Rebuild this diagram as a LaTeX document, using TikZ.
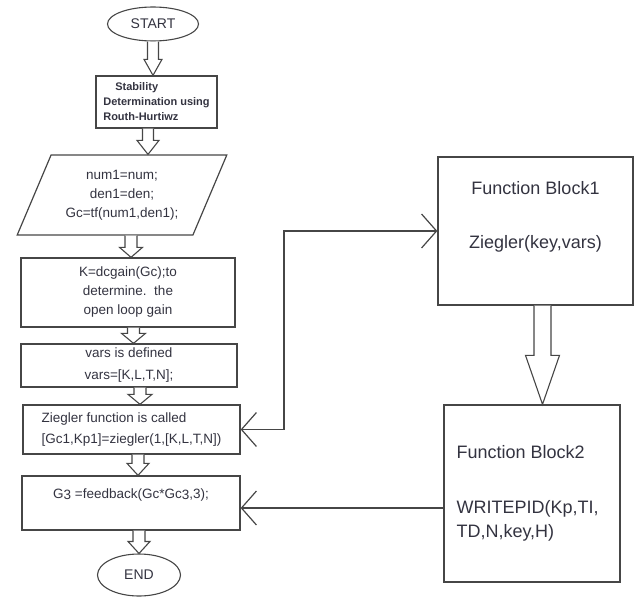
\documentclass[tikz,border=0pt]{standalone}
\usepackage{fontspec}
\setmainfont{Liberation Sans}
\usepackage{color}
\usetikzlibrary{shapes.geometric}
\usetikzlibrary{arrows.meta}
\usetikzlibrary{calc}

\definecolor{linegrey}{HTML}{464646}
\definecolor{txtgrey}{HTML}{333340}

% hollow block arrow: start point, tip point, half shaft, half head, head length
\newcommand{\hollowarrow}[5]{%
  \draw[hollow] let \p1=(#1), \p2=(#2) in
    (\x1-#3,\y1) -- (\x1-#3,\y2+#5) -- (\x1-#4,\y2+#5) -- (\x1,\y2)
    -- (\x1+#4,\y2+#5) -- (\x1+#3,\y2+#5) -- (\x1+#3,\y1);}

\begin{document}
\begin{tikzpicture}[x=1pt,y=-1pt,
    box/.style={draw=linegrey, line width=1.3pt, rectangle, inner sep=0pt, text=txtgrey},
    term/.style={draw=linegrey, line width=1.1pt, ellipse, inner sep=0pt, text=txtgrey,
        font=\fontsize{14}{16}\selectfont},
    stepfont/.style={font=\fontsize{13.5}{19}\selectfont},
    fntext/.style={inner sep=0pt, text=txtgrey, font=\fontsize{18}{22}\selectfont},
    hollow/.style={draw=linegrey, line width=1.1pt, fill=white, line join=miter},
    flow/.style={draw=linegrey, line width=1.2pt},
    barb/.tip={Straight Barb[length=15pt,width=34pt]}]
        \useasboundingbox (0,0) rectangle (639,597);

        % main flow
        \node[term, minimum width=91pt, minimum height=34pt] (start) at (153,24) {START};
        \node[box, minimum width=121pt, minimum height=52pt, align=left,
            font=\fontsize{11}{15}\selectfont\bfseries] (stab) at (156.5,102)
            {\hspace{12pt}Stability\\Determination using\\Routh-Hurtiwz};
        \node[draw=linegrey, line width=1.2pt, trapezium, trapezium left angle=61.7,
            trapezium right angle=118.3, trapezium stretches=true, inner sep=0pt,
            minimum width=210pt, minimum height=80pt, text=txtgrey, stepfont, align=center]
            (init) at (122,195) {num1=num;\\den1=den;\\Gc=tf(num1,den1);};
        \node[box, stepfont, minimum width=214pt, minimum height=69pt, align=center]
            (gain) at (128,292.5) {K=dcgain(Gc);to\\determine.\ \ the\\open loop gain};
        \node[box, stepfont, minimum width=216pt, minimum height=43pt, align=center]
            (vars) at (129,365.5) {vars is defined\\[3pt]vars=[K,L,T,N];};
        \node[box, stepfont, minimum width=217pt, minimum height=49pt, align=left]
            (zieg) at (131.5,429.5) {Ziegler function is called\\[2pt][Gc1,Kp1]=ziegler(1,[K,L,T,N])};
        \node[box, stepfont, minimum width=218pt, minimum height=54pt, align=left]
            (g3) at (131,503) {G\raisebox{-1.5pt}{3} =feedback(Gc*Gc\raisebox{-1.5pt}{3},3);\\\mbox{}};
        \node[term, minimum width=83pt, minimum height=42pt] (end) at (139,575) {END};

        % function blocks
        \node[box, minimum width=195pt, minimum height=148pt] (fb1) at (535.5,231) {};
        \node[fntext, anchor=north, align=center] (fb1txt) at ([yshift=-24.5pt]fb1.north)
            {Function Block1\\[32pt]Ziegler(key,vars)};
        \node[box, minimum width=176pt, minimum height=177pt] (fb2) at (532,493.5) {};
        \node[fntext, anchor=north west, align=left, font=\fontsize{18}{24}\selectfont]
            (fb2txt) at ([shift={(13pt,-41pt)}]fb2.north west)
            {Function Block2\\[31pt]WRITEPID(Kp,TI,\\TD,N,key,H)};

        % hollow arrows
        \hollowarrow{start.south}{stab.north}{5.5pt}{9pt}{16pt}
        \hollowarrow{[xshift=-8.5pt]stab.south}{init.north}{5.5pt}{11pt}{14pt}
        \hollowarrow{[xshift=9pt]init.south}{gain.north}{6pt}{11.5pt}{10pt}
        \hollowarrow{[xshift=5.5pt]gain.south}{vars.north}{6pt}{12pt}{10pt}
        \hollowarrow{[xshift=11pt]vars.south}{zieg.north}{6pt}{12pt}{10pt}
        \hollowarrow{[xshift=6.5pt]zieg.south}{g3.north}{6pt}{11pt}{12pt}
        \hollowarrow{[xshift=8pt]g3.south}{end.north}{6pt}{11pt}{12pt}
        \hollowarrow{[xshift=7pt]fb1.south}{fb2.north}{8.5pt}{17pt}{49pt}

        % connectors
        \coordinate (elbow) at (284,228);
        \draw[flow, barb-barb] (zieg.east) -- (zieg.east -| elbow) |- (fb1.west);
        \draw[flow, -barb] ([yshift=-5pt]g3.east -| fb2.west) -- ([yshift=-5pt]g3.east);
    \end{tikzpicture}
\end{document}
